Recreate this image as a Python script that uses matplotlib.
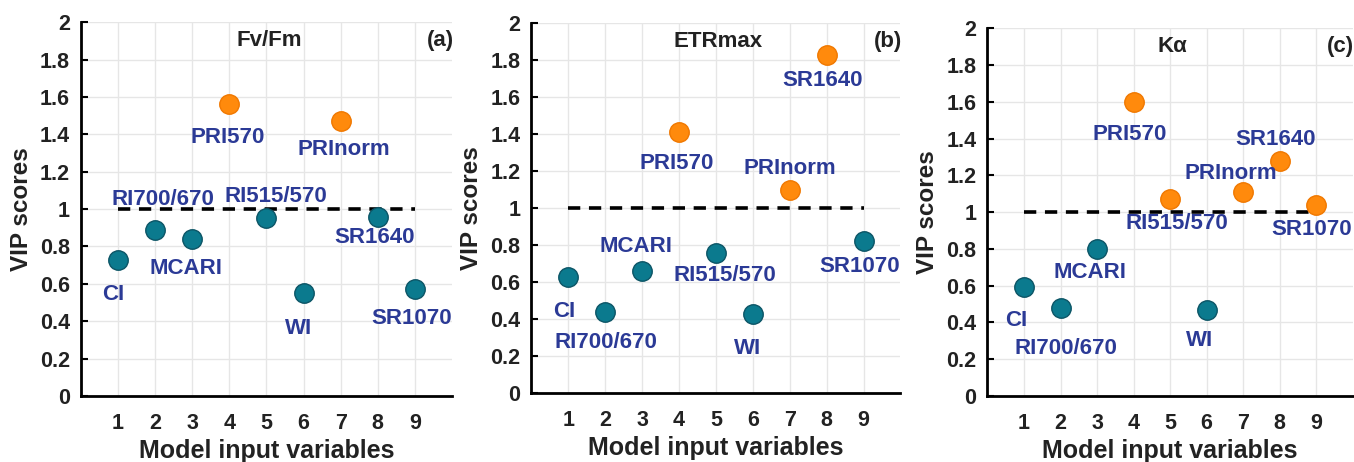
import matplotlib
matplotlib.use("Agg")
import matplotlib.pyplot as plt

plt.rcParams['font.family'] = ['Liberation Sans', 'DejaVu Sans']
plt.rcParams['font.weight'] = 'bold'

variables = [1, 2, 3, 4, 5, 6, 7, 8, 9]
index_names = ["CI", "RI700/670", "MCARI", "PRI570", "RI515/570",
               "WI", "PRInorm", "SR1640", "SR1070"]

vip_fvfm = [0.73, 0.89, 0.84, 1.56, 0.95, 0.55, 1.47, 0.96, 0.57]
vip_etrmax = [0.63, 0.44, 0.66, 1.41, 0.76, 0.43, 1.10, 1.83, 0.82]
vip_kalpha = [0.59, 0.48, 0.80, 1.60, 1.07, 0.47, 1.11, 1.28, 1.04]

# label anchor (x, y) for each variable, per panel
lab_fvfm = [(0.87, 0.545), (2.22, 1.05), (2.83, 0.68), (3.96, 1.385), (5.26, 1.065),
            (5.87, 0.36), (7.09, 1.32), (7.91, 0.85), (8.92, 0.415)]
lab_etrmax = [(0.88, 0.44), (2.03, 0.275), (2.83, 0.795), (3.94, 1.24), (5.23, 0.635),
              (5.86, 0.24), (7.01, 1.215), (7.90, 1.69), (8.89, 0.685)]
lab_kalpha = [(0.80, 0.41), (2.15, 0.256), (2.81, 0.67), (3.90, 1.42), (5.20, 0.94),
              (5.82, 0.30), (6.67, 1.21), (7.90, 1.395), (8.88, 0.905)]

panels = [
    ("Fv/Fm", "(a)", vip_fvfm, lab_fvfm, [0.0598, 0.143, 0.274, 0.809]),
    ("ETRmax", "(b)", vip_etrmax, lab_etrmax, [0.3925, 0.149, 0.2725, 0.801]),
    ("K\u03b1", "(c)", vip_kalpha, lab_kalpha, [0.7293, 0.143, 0.2697, 0.796]),
]

TEAL = "#0b7a8e"
TEAL_EDGE = "#0c5566"
ORANGE = "#ff8a0c"
ORANGE_EDGE = "#f07800"
LABEL_BLUE = "#2b3a96"
INK = "#222222"

fig = plt.figure(figsize=(13.54, 4.62), dpi=100)

for title, tag, vals, labs, rect in panels:
    ax = fig.add_axes(rect)
    ax.set_xlim(0, 10)
    ax.set_ylim(0, 2)
    ax.grid(True, color="#e6e6e6", linewidth=1.0)
    ax.set_axisbelow(True)

    ax.plot([1, 9], [1, 1], linestyle=(0, (3.4, 2.4)), color="black", linewidth=2.6, zorder=2)

    for x, v, name, (lx, ly) in zip(variables, vals, index_names, labs):
        above = v > 1
        ax.plot(x, v, "o", markersize=14,
                color=ORANGE if above else TEAL,
                markeredgecolor=ORANGE_EDGE if above else TEAL_EDGE,
                markeredgewidth=1.0, zorder=3)
        ax.text(lx, ly, name, ha="center", va="center", fontsize=16,
                fontweight="bold", color=LABEL_BLUE, zorder=4)

    ax.text(5.07, 1.9, title, ha="center", va="center", fontsize=16,
            fontweight="bold", color=INK)
    ax.text(10.05, 1.9, tag, ha="right", va="center", fontsize=16,
            fontweight="bold", color=INK, clip_on=False)

    ax.set_xticks(variables)
    ax.set_yticks([0, 0.2, 0.4, 0.6, 0.8, 1, 1.2, 1.4, 1.6, 1.8, 2])
    ax.set_yticklabels(["0", "0.2", "0.4", "0.6", "0.8", "1", "1.2", "1.4", "1.6", "1.8", "2"])
    ax.tick_params(axis="x", length=0, pad=12, labelsize=15.5)
    ax.tick_params(axis="y", direction="in", length=5, width=1.5, pad=8, labelsize=15.5)
    for lbl in ax.get_xticklabels() + ax.get_yticklabels():
        lbl.set_fontweight("bold")
        lbl.set_color(INK)

    ax.spines["top"].set_visible(False)
    ax.spines["right"].set_visible(False)
    ax.spines["left"].set_linewidth(2)
    ax.spines["bottom"].set_linewidth(2)

    ax.set_ylabel("VIP scores", fontsize=17.5, fontweight="bold", color=INK, labelpad=5)
    ax.set_xlabel("Model input variables", fontsize=18, fontweight="bold",
                  color=INK, labelpad=4)

fig.savefig("out.png", dpi=100, facecolor="white")
